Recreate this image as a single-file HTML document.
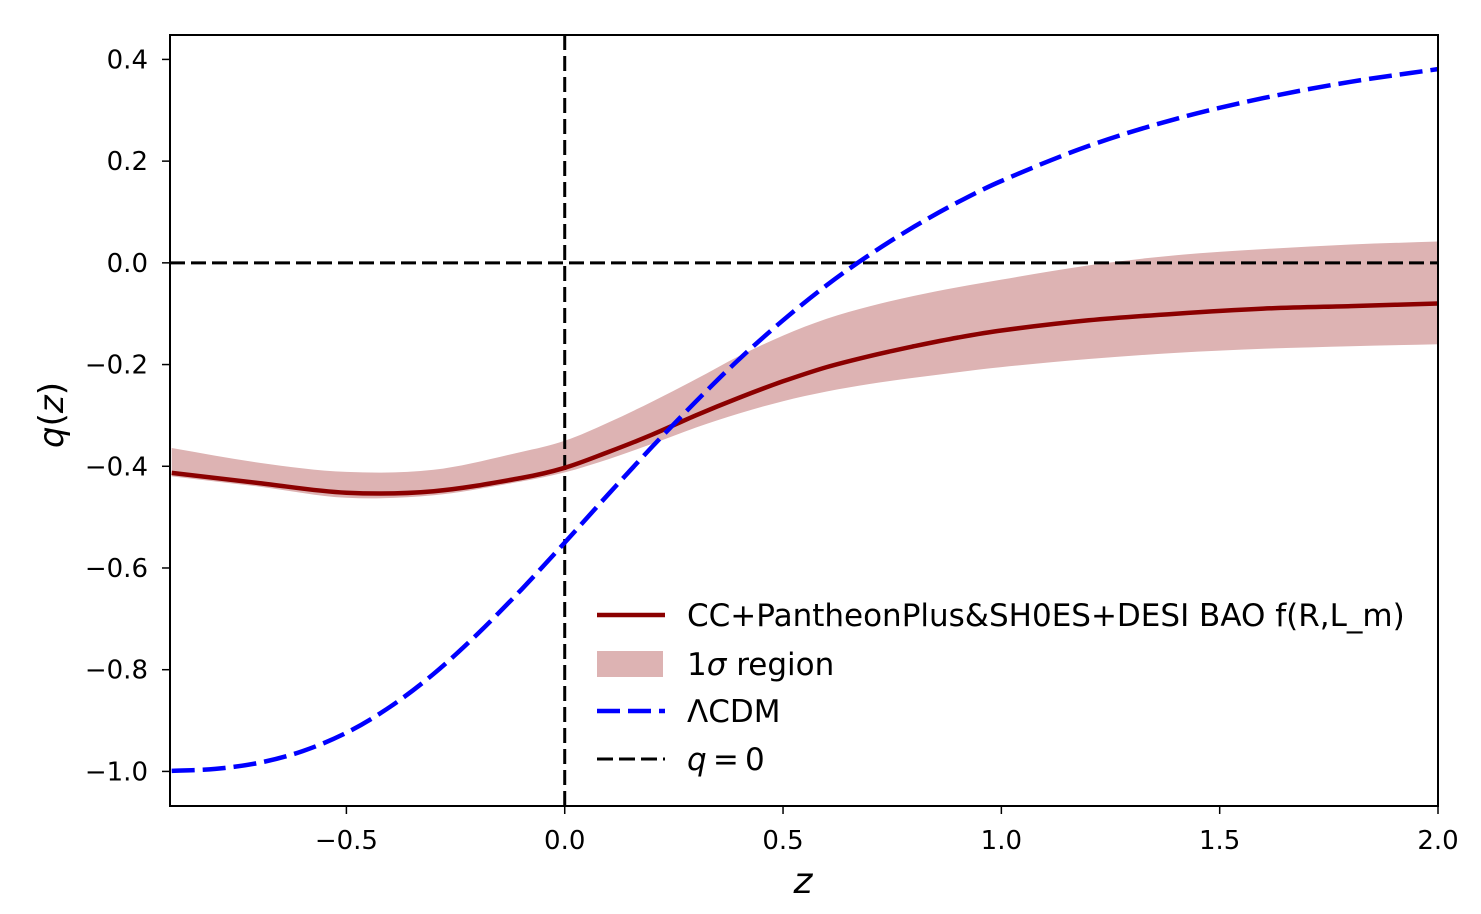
<!DOCTYPE html>
<html><head><meta charset="utf-8"><style>
body{margin:0;background:#fff;}
svg{display:block;font-family:"DejaVu Sans","Liberation Sans",sans-serif;}
</style></head><body>
<svg id="chart" width="1481" height="914">
<g id="plot"></g>
</svg>
<script>
const zVals=[-0.9,-0.7,-0.5,-0.3,-0.1,0,0.1,0.2,0.3,0.4,0.5,0.6,0.7,0.8,0.9,1.0,1.2,1.4,1.6,1.8,2.0];
const meanQ=[-0.413,-0.433,-0.452,-0.449,-0.423,-0.403,-0.372,-0.338,-0.30,-0.265,-0.233,-0.205,-0.183,-0.164,-0.147,-0.133,-0.113,-0.10,-0.09,-0.085,-0.08];
const upperQ=[-0.364,-0.393,-0.411,-0.407,-0.372,-0.350,-0.314,-0.273,-0.229,-0.183,-0.143,-0.110,-0.085,-0.065,-0.048,-0.033,-0.005,0.015,0.027,0.036,0.042];
const lowerQ=[-0.42,-0.44,-0.462,-0.457,-0.43,-0.412,-0.386,-0.356,-0.324,-0.296,-0.272,-0.253,-0.238,-0.226,-0.215,-0.205,-0.189,-0.177,-0.169,-0.164,-0.16];
const lcdmZ=[-0.9,-0.8,-0.7,-0.6,-0.5,-0.4,-0.3,-0.2,-0.1,0,0.1,0.2,0.3,0.4,0.5,0.6,0.7,0.8,0.9,1.0,1.2,1.4,1.6,1.8,2.0];
const lcdmQ=[-0.999,-0.995,-0.983,-0.960,-0.924,-0.873,-0.808,-0.730,-0.643,-0.55,-0.455,-0.362,-0.273,-0.189,-0.113,-0.044,0.017,0.071,0.119,0.161,0.230,0.283,0.324,0.356,0.381];
const xTicks=[-0.5,0.0,0.5,1.0,1.5,2.0];
const xTickLabels=["\u22120.5","0.0","0.5","1.0","1.5","2.0"];
const yTicks=[0.4,0.2,0.0,-0.2,-0.4,-0.6,-0.8,-1.0];
const yTickLabels=["0.4","0.2","0.0","\u22120.2","\u22120.4","\u22120.6","\u22120.8","\u22121.0"];

const L=170,R=1438,T=35,B=806;
const xMin=-0.904,xMax=2.0,yMin=-1.068,yMax=0.448;
const sx=v=>L+(v-xMin)/(xMax-xMin)*(R-L);
const sy=v=>B-(v-yMin)/(yMax-yMin)*(B-T);
const NS="http://www.w3.org/2000/svg";
const svg=document.getElementById('chart');
const g=document.getElementById('plot');
function mk(tag,attrs,parent){const e=document.createElementNS(NS,tag);for(const k in attrs)e.setAttribute(k,attrs[k]);(parent||g).appendChild(e);return e;}
const clip=mk('clipPath',{id:'cp'},svg);mk('rect',{x:L,y:T,width:R-L,height:B-T},clip);
const pg=mk('g',{'clip-path':'url(#cp)'});


function tangents(P){
  const n=P.length,m=[];
  for(let i=0;i<n;i++){
    const a=P[Math.max(i-1,0)],b=P[Math.min(i+1,n-1)];
    m.push((b[1]-a[1])/(b[0]-a[0]));
  }
  return m;
}
function smooth(xs,ys){
  const P=xs.map((x,i)=>[sx(x),sy(ys[i])]);
  const n=P.length,m=tangents(P);
  let d='M'+P[0][0].toFixed(1)+','+P[0][1].toFixed(1);
  for(let i=0;i<n-1;i++){
    const h=(P[i+1][0]-P[i][0])/3;
    d+='C'+(P[i][0]+h).toFixed(1)+','+(P[i][1]+m[i]*h).toFixed(1)+' '+(P[i+1][0]-h).toFixed(1)+','+(P[i+1][1]-m[i+1]*h).toFixed(1)+' '+P[i+1][0].toFixed(1)+','+P[i+1][1].toFixed(1);
  }
  return d;
}
function smoothRev(xs,ys){
  const P=xs.map((x,i)=>[sx(x),sy(ys[i])]);
  const n=P.length,m=tangents(P);
  let d='L'+P[n-1][0].toFixed(1)+','+P[n-1][1].toFixed(1);
  for(let i=n-1;i>0;i--){
    const h=(P[i][0]-P[i-1][0])/3;
    d+='C'+(P[i][0]-h).toFixed(1)+','+(P[i][1]-m[i]*h).toFixed(1)+' '+(P[i-1][0]+h).toFixed(1)+','+(P[i-1][1]+m[i-1]*h).toFixed(1)+' '+P[i-1][0].toFixed(1)+','+P[i-1][1].toFixed(1);
  }
  return d;
}
const bd=smooth(zVals,upperQ)+smoothRev(zVals,lowerQ)+'Z';
const band=mk('path',{d:bd,fill:'#ddb3b3',stroke:'none'},pg);


const h=mk('line',{x1:L,x2:R,y1:sy(0),y2:sy(0),stroke:'#000','stroke-width':3,'stroke-dasharray':'15,6'},pg);


const v=mk('line',{x1:sx(0),x2:sx(0),y1:T,y2:B,stroke:'#000','stroke-width':3,'stroke-dasharray':'15,6'},pg);


const mean=mk('path',{d:smooth(zVals,meanQ),fill:'none',stroke:'#8b0000','stroke-width':4.5,'stroke-linejoin':'round'},pg);


const lc=mk('path',{d:smooth(lcdmZ,lcdmQ),fill:'none',stroke:'#0000ff','stroke-width':4.5,'stroke-dasharray':'23,8'},pg);


const frame=mk('rect',{x:L,y:T,width:R-L,height:B-T,fill:'none',stroke:'#000','stroke-width':2});


xTicks.forEach((t,i)=>{
  mk('line',{x1:sx(t),x2:sx(t),y1:B,y2:B+8,stroke:'#000','stroke-width':1.5});
  const tx=mk('text',{x:sx(t),y:B+43,'text-anchor':'middle','font-size':26});tx.textContent=xTickLabels[i];
  
  
});
yTicks.forEach((t,i)=>{
  mk('line',{x1:L-8,x2:L,y1:sy(t),y2:sy(t),stroke:'#000','stroke-width':1.5});
  const tx=mk('text',{x:L-22,y:sy(t)+9,'text-anchor':'end','font-size':26});tx.textContent=yTickLabels[i];
  
  
});
const xl=mk('text',{x:803,y:893,'text-anchor':'middle','font-size':36,'font-style':'italic'});xl.textContent='z';


const yl=mk('text',{x:0,y:0,'text-anchor':'middle','font-size':34,transform:'translate(63,415) rotate(-90)'});
yl.innerHTML='<tspan font-style="italic">q</tspan>(<tspan font-style="italic">z</tspan>)';


const lg=mk('g',{});


const rows=[615,664,711,759];
mk('line',{x1:597,x2:665,y1:rows[0],y2:rows[0],stroke:'#8b0000','stroke-width':4.5},lg);
mk('rect',{x:597,y:rows[1]-13,width:66,height:26,fill:'#ddb3b3'},lg);
mk('line',{x1:597,x2:665,y1:rows[2],y2:rows[2],stroke:'#0000ff','stroke-width':4.5,'stroke-dasharray':'23,8'},lg);
mk('line',{x1:597,x2:665,y1:rows[3],y2:rows[3],stroke:'#000','stroke-width':3,'stroke-dasharray':'16,6'},lg);
const labs=['CC+PantheonPlus&amp;SH0ES+DESI BAO f(R,L_m)','1<tspan font-style="italic">σ</tspan> region','ΛCDM','<tspan font-style="italic">q</tspan>\u2009=\u20090'];
labs.forEach((s,i)=>{const t=mk('text',{x:687,y:rows[i]+11,'font-size':31},lg);t.innerHTML=s;
  
  });
</script>
</body></html>
